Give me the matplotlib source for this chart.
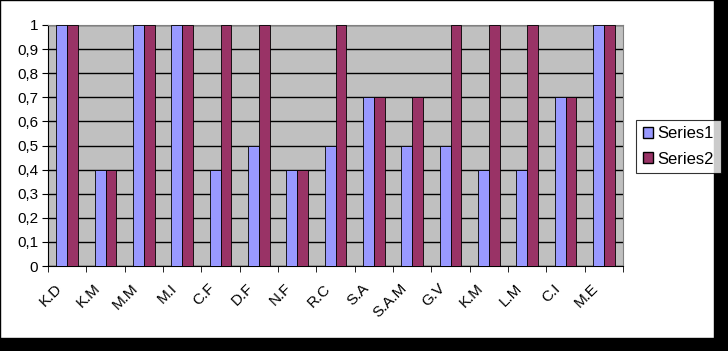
import matplotlib.pyplot as plt
import matplotlib.patches as mpatches
import matplotlib.transforms as mtransforms
import numpy as np

plt.rcParams['font.family'] = ['Liberation Sans', 'DejaVu Sans']

# data
names = ["K.D", "K.M", "M.M", "M.I", "C.F", "D.F", "N.F", "R.C",
         "S.A", "S.A.M", "G.V", "K.M", "L.M", "C.I", "M.E"]
series1 = [1, 0.4, 1, 1, 0.4, 0.5, 0.4, 0.5, 0.7, 0.5, 0.5, 0.4, 0.4, 0.7, 1]
series2 = [1, 0.4, 1, 1, 1, 1, 0.4, 1, 0.7, 0.7, 1, 1, 1, 0.7, 1]
yticks = [0, 0.1, 0.2, 0.3, 0.4, 0.5, 0.6, 0.7, 0.8, 0.9, 1]
ylabels = ["0", "0,1", "0,2", "0,3", "0,4", "0,5", "0,6", "0,7", "0,8", "0,9", "1"]

c1 = "#9999FF"
c2 = "#993366"

fig = plt.figure(figsize=(7.28, 3.51), dpi=100)
fig.patch.set_facecolor("black")
# white chart panel, black bg shows as shadow at right/bottom
panel = mpatches.Rectangle((0, 13 / 351), 714 / 728, 338 / 351, transform=fig.transFigure,
                           facecolor="white", edgecolor="black", lw=1, zorder=-10)
fig.patches.append(panel)

ax = fig.add_axes([48 / 728, 85 / 351, 575 / 728, 241 / 351])
ax.set_facecolor("#C0C0C0")

x = np.arange(len(names))
w = 1 / 3.5
ax.bar(x - w / 2, series1, w, color=c1, edgecolor="black", lw=0.6, zorder=3, label="Series1")
ax.bar(x + w / 2, series2, w, color=c2, edgecolor="black", lw=0.6, zorder=3, label="Series2")

ax.set_xlim(-0.5, len(names) - 0.5)
ax.set_ylim(0, 1)
ax.set_yticks(yticks)
ax.set_yticklabels(ylabels, fontsize=11)
ax.yaxis.grid(True, color="black", lw=1, zorder=1)
ax.set_axisbelow(True)

ax.set_xticks(x)
ax.set_xticklabels(names, rotation=45, ha="right", va="top", rotation_mode="anchor", fontsize=11)
ax.tick_params(axis="x", which="major", length=0, pad=11)
shift = mtransforms.ScaledTranslation(-9 / 72, 0, fig.dpi_scale_trans)
for lbl in ax.get_xticklabels():
    lbl.set_transform(lbl.get_transform() + shift)
ax.set_xticks(np.arange(len(names) + 1) - 0.5, minor=True)
ax.tick_params(axis="x", which="minor", length=4, color="black", direction="out")
ax.tick_params(axis="y", length=4, color="black", direction="out", pad=3)

for s in ["top", "right"]:
    ax.spines[s].set_color("#808080")
for s in ["left", "bottom"]:
    ax.spines[s].set_color("black")

handles = [mpatches.Patch(facecolor=c1, edgecolor="black", label="Series1"),
           mpatches.Patch(facecolor=c2, edgecolor="black", label="Series2")]
leg = fig.legend(handles=handles, loc="center left", bbox_to_anchor=(636 / 728, 204.5 / 351),
                 fontsize=12, frameon=True, fancybox=False, edgecolor="black",
                 handlelength=0.6, handleheight=0.6, handletextpad=0.3,
                 borderpad=0.4, labelspacing=0.6, borderaxespad=0)
leg.get_frame().set_linewidth(0.8)

fig.savefig("out.png", dpi=100, facecolor=fig.get_facecolor())
